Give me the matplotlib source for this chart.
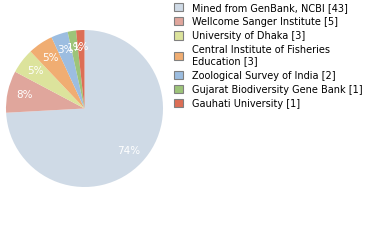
import matplotlib
matplotlib.use("Agg")
import matplotlib.pyplot as plt

labels = ["Mined from GenBank, NCBI [43]", "Wellcome Sanger Institute [5]",
          "University of Dhaka [3]", "Central Institute of Fisheries\nEducation [3]",
          "Zoological Survey of India [2]", "Gujarat Biodiversity Gene Bank [1]",
          "Gauhati University [1]"]
counts = [43, 5, 3, 3, 2, 1, 1]
colors = ["#cfdae6", "#e0a69c", "#dce39c", "#f0ad72", "#9cbde0", "#9dc479", "#dd6e55"]

fig = plt.figure(figsize=(3.8, 2.4), dpi=100)
ax = fig.add_axes([6 / 380, 1 - 187 / 240, 157 / 380, 157 / 240])

wedges, texts, autotexts = ax.pie(
    counts, colors=colors, startangle=90, counterclock=False,
    autopct="%d%%", pctdistance=0.78,
    textprops={"color": "white", "fontsize": 7.5},
    wedgeprops={"linewidth": 0})
ax.set_xlim(-1, 1)
ax.set_ylim(-1, 1)
ax.set_aspect("equal")

fig.legend(wedges, labels, loc="upper left", bbox_to_anchor=(173 / 380, 0.995),
           frameon=False, fontsize=7, handlelength=0.9, handleheight=0.9,
           handletextpad=0.9, labelspacing=0.42, borderaxespad=0.0,
           borderpad=0.15)
for h in fig.legends[0].legend_handles:
    h.set_edgecolor("#808080")
    h.set_linewidth(0.8)

fig.savefig("out.png", dpi=100)
